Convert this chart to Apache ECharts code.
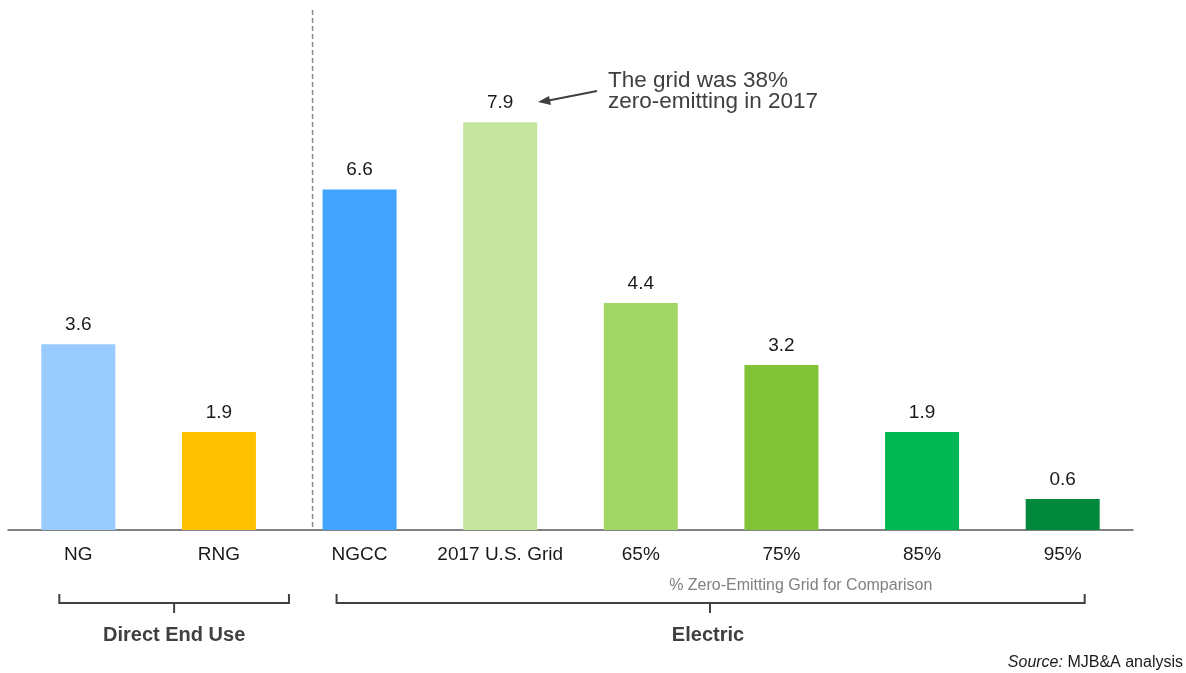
<!DOCTYPE html>
<html>
<head>
<meta charset="utf-8">
<script src="https://cdn.jsdelivr.net/npm/echarts@6/dist/echarts.min.js"></script>
<style>
  html, body { margin: 0; padding: 0; background: #fff; }
  #main { width: 1186px; height: 673px; }
</style>
</head>
<body>
<div id="main"></div>
<script>
// categories and values
var categories = ['NG', 'RNG', 'NGCC', '2017 U.S. Grid', '65%', '75%', '85%', '95%'];
var values = [3.6, 1.9, 6.6, 7.9, 4.4, 3.2, 1.9, 0.6];
var barColors = ['#99cbff', '#ffc000', '#42a4ff', '#c6e69f', '#a2d665', '#80c337', '#00b753', '#00893c'];

var FONT = 'Liberation Sans, Arial, sans-serif';
var chart = echarts.init(document.getElementById('main'));

var option = {
  animation: false,
  textStyle: { fontFamily: FONT },
  grid: { left: 8, right: 53, top: 14, bottom: 143 },
  xAxis: {
    type: 'category',
    data: categories,
    axisTick: { show: false },
    axisLine: { lineStyle: { color: '#595959', width: 1.5 } },
    axisLabel: { color: '#1a1a1a', fontSize: 19, margin: 15, interval: 0 }
  },
  yAxis: {
    type: 'value',
    min: 0,
    max: 10,
    show: false
  },
  series: [{
    type: 'bar',
    barWidth: 74,
    data: values.map(function (v, i) {
      return { value: v, itemStyle: { color: barColors[i] } };
    }),
    label: {
      show: true,
      position: 'top',
      distance: 10,
      color: '#1a1a1a',
      fontSize: 19,
      formatter: function (p) { return p.value.toFixed(1); }
    }
  }]
};
chart.setOption(option);

// helpers: pixel position of a category centre
function cx(i) { return chart.convertToPixel({ xAxisIndex: 0 }, i); }
var axisY = chart.convertToPixel({ yAxisIndex: 0 }, 0);
var sepX = cx(2) - 47;

function bracket(x1, x2) {
  var yb = axisY + 73, yt = axisY + 64;
  return {
    type: 'polyline',
    shape: { points: [[x1, yt], [x1, yb], [x2, yb], [x2, yt]] },
    style: { stroke: '#404040', lineWidth: 2, fill: null }
  };
}
function tick(x) {
  return {
    type: 'line',
    shape: { x1: x, y1: axisY + 73, x2: x, y2: axisY + 83 },
    style: { stroke: '#404040', lineWidth: 2 }
  };
}

var leftMid = (cx(0) - 19 + cx(1) + 70) / 2;
var gridLabelX = (cx(4) + cx(7)) / 2 - 51;

chart.setOption({
  graphic: [
    {
      type: 'line',
      shape: { x1: sepX, y1: 10, x2: sepX, y2: axisY },
      style: { stroke: '#8c9080', lineWidth: 1.5, lineDash: [5, 3] }
    },
    bracket(cx(0) - 19, cx(1) + 70),
    tick(leftMid),
    bracket(cx(2) - 23, cx(7) + 22),
    tick(710),
    {
      type: 'text', x: leftMid, y: axisY + 105,
      style: { text: 'Direct End Use', fill: '#404040', font: 'bold 20px ' + FONT, align: 'center', verticalAlign: 'middle' }
    },
    {
      type: 'text', x: 708, y: axisY + 105,
      style: { text: 'Electric', fill: '#404040', font: 'bold 20px ' + FONT, align: 'center', verticalAlign: 'middle' }
    },
    {
      type: 'text', x: gridLabelX, y: axisY + 56,
      style: { text: '% Zero-Emitting Grid for Comparison', fill: '#808080', font: '16px ' + FONT, align: 'center', verticalAlign: 'middle' }
    },
    {
      type: 'text', x: 608, y: 70,
      style: { text: 'The grid was 38%\nzero-emitting in 2017', fill: '#404040', font: '22.5px ' + FONT, lineHeight: 21, align: 'left', verticalAlign: 'top' }
    },
    {
      type: 'line',
      shape: { x1: 597, y1: 91, x2: 546, y2: 101 },
      style: { stroke: '#404040', lineWidth: 2 }
    },
    {
      type: 'polygon',
      shape: { points: [[538, 102], [549, 96], [551, 105]] },
      style: { fill: '#404040' }
    },
    {
      type: 'text', x: 1183, y: 663,
      style: {
        text: '{i|Source:} MJB&A analysis',
        align: 'right', verticalAlign: 'middle',
        rich: {
          i: { fontStyle: 'italic', fontSize: 16, fill: '#1a1a1a', fontFamily: FONT }
        },
        fill: '#1a1a1a', font: '16px ' + FONT
      }
    }
  ]
});
</script>
</body>
</html>
